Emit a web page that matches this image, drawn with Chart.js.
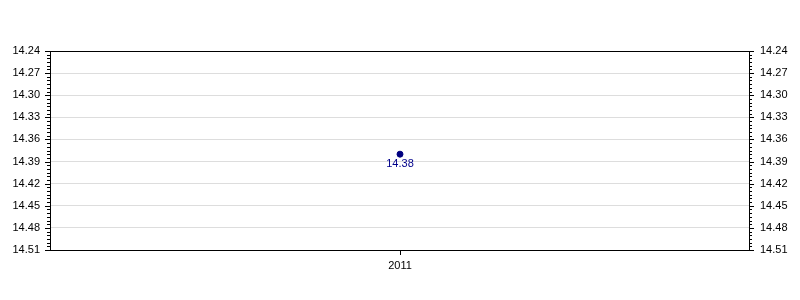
<!DOCTYPE html>
<html>
<head>
<meta charset="utf-8">
<script src="https://cdn.jsdelivr.net/npm/chart.js@4/dist/chart.umd.min.js"></script>
<style>
html,body{margin:0;padding:0;background:#fff;}
#wrap{width:800px;height:300px;}
</style>
</head>
<body>
<div id="wrap"><canvas id="c" width="800" height="300"></canvas></div>
<script>
const categories = ["2011"];
const seriesValues = [14.38];
const valueLabels = ["14.38"];
const yTickValues = [14.24, 14.27, 14.30, 14.33, 14.36, 14.39, 14.42, 14.45, 14.48, 14.51];
const yMin = 14.24, yMax = 14.51, minorStep = 0.005;

const FONT = "'Liberation Sans', Arial, sans-serif";

function setTicks(scale){
  scale.ticks = yTickValues.map(v => ({value: v}));
}

const axisPlugin = {
  id: 'axisDeco',
  afterDraw(chart){
    const ctx = chart.ctx;
    const a = chart.chartArea;
    const y = chart.scales.y;
    ctx.save();
    ctx.strokeStyle = '#000';
    ctx.lineWidth = 1;
    // border box
    ctx.strokeRect(Math.round(a.left)+0.5, Math.round(a.top)+0.5, Math.round(a.right-a.left)-1, Math.round(a.bottom-a.top));
    ctx.beginPath();
    // minor ticks
    const n = Math.round((yMax - yMin)/minorStep);
    for(let i=0;i<=n;i++){
      const v = yMin + i*minorStep;
      const p = Math.round(y.getPixelForValue(v)) + 0.5;
      const major = (i % 6 === 0);
      const len = major ? 5 : 3;
      ctx.moveTo(a.left - len, p); ctx.lineTo(a.left, p);
      ctx.moveTo(a.right - 1, p); ctx.lineTo(a.right - 1 + len, p);
    }
    // x ticks
    const x = chart.scales.x;
    categories.forEach((c,i)=>{
      const px = Math.round(x.getPixelForValue(i)) + 0.5;
      ctx.moveTo(px, a.bottom); ctx.lineTo(px, a.bottom + 5);
    });
    ctx.stroke();
    // data labels
    ctx.fillStyle = '#00008b';
    ctx.font = '11px ' + FONT;
    ctx.textAlign = 'center';
    ctx.textBaseline = 'middle';
    const meta = chart.getDatasetMeta(0);
    meta.data.forEach((pt, i)=>{
      ctx.fillText(valueLabels[i], pt.x, pt.y + 10);
    });
    ctx.restore();
  }
};

const yCommon = {
  type: 'linear',
  reverse: true,
  min: yMin,
  max: yMax,
  afterBuildTicks: setTicks,
  border: {display: false},
  grid: {color: '#dddddd', drawTicks: false, lineWidth: 1},
  ticks: {
    color: '#000',
    padding: 10,
    font: {family: FONT, size: 11},
    callback: v => Number(v).toFixed(2)
  }
};

new Chart(document.getElementById('c'), {
  type: 'line',
  data: {
    labels: categories,
    datasets: [{
      data: seriesValues,
      borderColor: '#000080',
      backgroundColor: '#000080',
      pointRadius: 3,
      pointBorderWidth: 1,
      showLine: false,
      yAxisID: 'y'
    }]
  },
  options: {
    responsive: false,
    animation: false,
    devicePixelRatio: 1,
    layout: {padding: {top: 51, left: 0, right: 0, bottom: 0}},
    plugins: {legend: {display: false}, tooltip: {enabled: false}},
    scales: {
      x: {
        type: 'category',
        offset: true,
        border: {display: false},
        grid: {display: false, drawTicks: false},
        ticks: {color: '#000', padding: 9, font: {family: FONT, size: 11}},
        afterFit(s){ s.height = 50; }
      },
      y: Object.assign({}, yCommon, {position: 'left', afterFit(s){ s.width = 50; }}),
      y2: Object.assign({}, yCommon, {position: 'right', afterFit(s){ s.width = 50; }})
    }
  },
  plugins: [axisPlugin]
});
</script>
</body>
</html>
